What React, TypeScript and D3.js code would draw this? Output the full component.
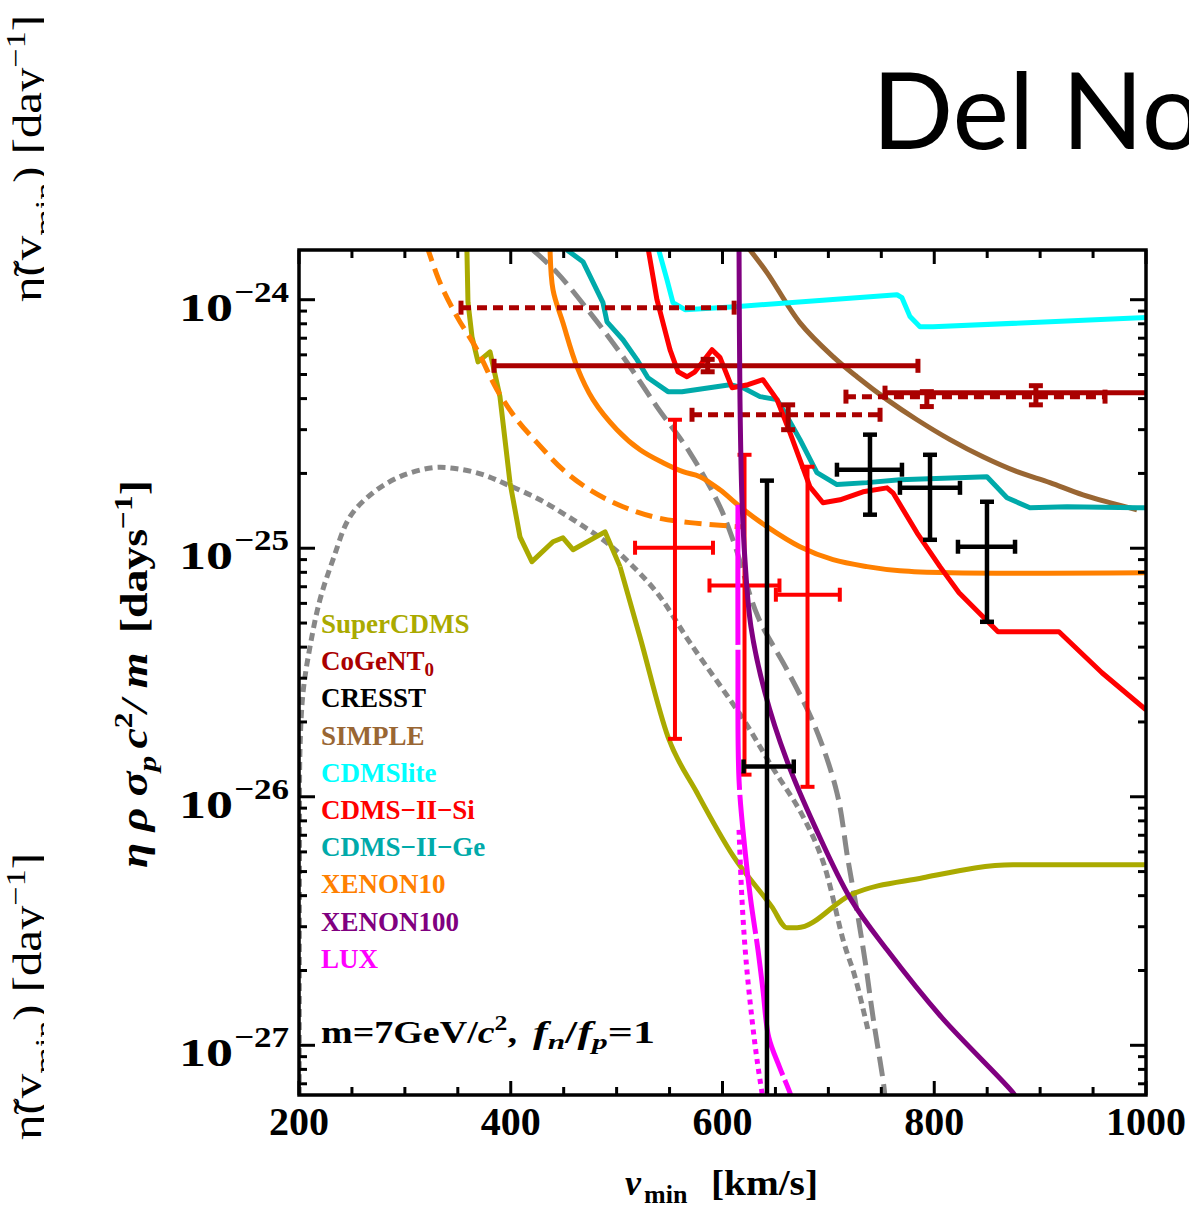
import React from 'react';
import * as d3 from 'd3';

// Velocities in km/s; rates stored as log10 of the rate in days^-1.
type Pt = [number, number];

const superCdms: Pt[] = [
  [358.5, -23.78], [359.6, -24.01], [363.4, -24.149], [369.1, -24.25], [380.4, -24.21],
  [389.8, -24.39], [399.3, -24.736], [408.7, -24.954], [420, -25.054], [439.9, -24.974],
  [449.3, -24.958], [458.8, -25.006], [489, -24.934], [503.2, -25.074], [522, -25.356],
  [548.5, -25.759], [575.9, -25.984], [609.9, -26.237], [646.7, -26.443], [660.9, -26.527],
  [670.4, -26.527], [721.4, -26.394], [789.4, -26.326], [874.4, -26.274], [1000, -26.274],
];
// index where the jagged low-velocity part hands over to the smooth tail
const superCdmsSmoothFrom = 13;

const cdmsLite: Pt[] = [
  [539.1, -23.79], [547.6, -23.92], [553.2, -24.012], [564.6, -24.04], [611.8, -24.028],
  [764.8, -23.98], [769.5, -23.992], [777.1, -24.068], [786.5, -24.109], [798.8, -24.109],
  [1000, -24.072],
];

const cdmsSi: Pt[] = [
  [529.6, -23.79], [538.1, -24.0], [550.4, -24.201], [558, -24.29], [566.5, -24.31],
  [574, -24.29], [590.1, -24.201], [597.7, -24.233], [609, -24.354], [624.1, -24.342],
  [638.2, -24.322], [651.5, -24.402], [663.7, -24.535], [682.6, -24.753], [694.9, -24.817],
  [711, -24.805], [732.7, -24.773], [755.4, -24.757], [761, -24.777], [783.7, -24.938],
  [805.4, -25.074], [823.4, -25.179], [860.2, -25.336], [917.8, -25.336], [958.4, -25.501],
  [1000, -25.65],
];

const cdmsGe: Pt[] = [
  [453.1, -23.8], [468.2, -23.847], [487.1, -24.012], [490.9, -24.089], [506, -24.161],
  [519.2, -24.241], [529.6, -24.314], [548.5, -24.37], [561.7, -24.37], [607.1, -24.342],
  [619.4, -24.354], [635.4, -24.39], [651.5, -24.402], [663.7, -24.491], [673.2, -24.563],
  [689.2, -24.696], [708.1, -24.744], [736.5, -24.736], [767.6, -24.724], [849.8, -24.712],
  [868.7, -24.797], [890.4, -24.837], [925.4, -24.833], [991.5, -24.837], [1000, -24.837],
];

const simple: Pt[] = [
  [624.1, -23.79], [642, -23.891], [673.2, -24.093], [704.4, -24.229], [727, -24.31],
  [755.4, -24.402], [783.7, -24.483], [814.9, -24.563], [846, -24.632], [878.2, -24.692],
  [909.3, -24.736], [940.5, -24.785], [991.5, -24.845],
];

const xenon10: Pt[] = [
  [437.1, -23.79], [439.9, -23.96], [449.3, -24.093], [462.6, -24.27], [477.7, -24.402],
  [500.3, -24.523], [522.1, -24.604], [543.8, -24.656], [562.7, -24.692], [578.7, -24.712],
  [597.6, -24.765], [616.5, -24.833], [642, -24.913], [673.2, -24.994], [704.4, -25.046],
  [736.5, -25.074], [767.6, -25.091], [814.9, -25.099], [1000, -25.099],
];

const xenon10Alt: Pt[] = [
  [320.5, -23.78], [333.2, -23.932], [349.2, -24.068], [368.1, -24.201], [387, -24.362],
  [405.9, -24.483], [424.8, -24.575], [449.3, -24.684], [474.8, -24.765], [506, -24.833],
  [538.1, -24.877], [569.3, -24.897], [613.7, -24.913], [621, -24.915],
];

const xenon100: Pt[] = [
  [615.6, -23.78], [616.5, -24.402], [618.4, -24.805], [621.2, -25.046], [626.9, -25.316],
  [640.1, -25.581], [660.5, -25.851], [687.4, -26.121], [721.4, -26.414], [755.4, -26.616],
  [806.4, -26.885], [874.4, -27.191], [877, -27.21],
];

const lux: Pt[] = [
  [614.6, -24.825], [614.6, -25.408], [615.6, -25.932], [621.2, -26.213], [626.6, -26.414],
  [633.5, -26.616], [638.2, -26.777], [643.6, -26.966], [653.8, -27.087], [663.7, -27.191],
  [665, -27.21],
];

const luxAlt: Pt[] = [
  [615.6, -26.133], [618.4, -26.414], [622.2, -26.656], [627.9, -26.897], [632.6, -27.058],
  [637.3, -27.191], [638, -27.21],
];

const haloDashed: Pt[] = [
  [421, -23.8], [443.7, -23.891], [474.8, -24.052], [506, -24.229], [538.1, -24.431],
  [569.3, -24.616], [597.6, -24.833], [611.8, -24.99], [633.5, -25.276], [660.9, -25.489],
  [687.4, -25.718], [708.1, -25.984], [718.5, -26.254], [728, -26.483], [735.5, -26.684],
  [742.1, -26.885], [752, -27.151], [753.5, -27.21],
];

const haloDotted: Pt[] = [
  [200.2, -27.2], [200.5, -26.2], [201, -25.8], [203.8, -25.581], [210.4, -25.396],
  [219.8, -25.207], [232.1, -25.046], [248.2, -24.873], [269.9, -24.777], [295.4, -24.712],
  [326.6, -24.676], [349.2, -24.68], [373.8, -24.704], [396.5, -24.744], [427.6, -24.805],
  [458.8, -24.885], [487.1, -24.966], [506, -25.034], [538.1, -25.179], [569.3, -25.38],
  [619.9, -25.69], [646.7, -25.879], [674.1, -26.064], [694.4, -26.254],
  [714.7, -26.588], [725.1, -26.724], [737.4, -26.938],
];

// CoGeNT bins: horizontal v_min range, central value, small vertical error
const cogentV = [586, 482, 662, 896, 793];
const cogentVLo = [384.2, 353, 571.2, 753.5, 716.6];
const cogentVHi = [784.6, 611, 748.8, 1060, 961.3];
const cogentLog = [-24.266, -24.032, -24.463, -24.374, -24.39];
const cogentLogLo = [-24.29, NaN, -24.523, -24.423, -24.43];
const cogentLogHi = [-24.24, NaN, -24.423, -24.346, -24.37];
const cogentDotted = [false, true, true, false, true];

// CRESST crosses
const cresstV = [739.3, 796, 849.8, 642];
const cresstVLo = [708.1, 767.6, 822.4, 619.9];
const cresstVHi = [769.5, 824.3, 876.3, 667.3];
const cresstLog = [-24.684, -24.757, -24.994, -25.878];
const cresstLogLo = [-24.865, -24.966, -25.296, -28];
const cresstLogHi = [-24.543, -24.624, -24.813, -24.728];

// CDMS-II-Si crosses
const siV = [555.1, 620.8, 680.3];
const siVLo = [517.4, 587.7, 650.4];
const siVHi = [591, 653.8, 710.8];
const siLog = [-24.998, -25.15, -25.187];
const siLogLo = [-25.767, -25.911, -25.96];
const siLogHi = [-24.483, -24.624, -24.672];

const legendNames = ['SuperCDMS', 'CoGeNT', 'CRESST', 'SIMPLE', 'CDMSlite', 'CDMS\u2212II\u2212Si', 'CDMS\u2212II\u2212Ge', 'XENON10', 'XENON100', 'LUX'];
const legendColors = ['#aaaa00', '#aa0000', '#000000', '#996633', '#00ffff', '#ff0000', '#00aaaa', '#ff8000', '#800080', '#ff00ff'];

const xTickValues = d3.range(200, 1001, 50);
const xTickLabels = [200, 400, 600, 800, 1000];
const yExponents = [-24, -25, -26, -27];

const W = 1189;
const H = 1210;
const P = { left: 299, right: 1146, top: 250, bottom: 1095 };
const serif = "'Liberation Serif', 'Times New Roman', serif";

export default function App() {
  const x = d3.scaleLinear().domain([200, 1000]).range([P.left, P.right]);
  const y = d3.scaleLog().domain([10 ** -27.2, 10 ** -23.8]).range([P.bottom, P.top]);
  const py = (l: number) => y(10 ** l);

  const lin = d3.line<Pt>().x((d) => x(d[0])).y((d) => py(d[1]));
  const mono = d3.line<Pt>().x((d) => x(d[0])).y((d) => py(d[1])).curve(d3.curveMonotoneX);
  const smooth = d3.line<Pt>().x((d) => x(d[0])).y((d) => py(d[1])).curve(d3.curveCatmullRom.alpha(0.5));

  const curves = [
    { id: 'haloDotted', d: smooth(haloDotted), color: '#888888', dash: '8 5' },
    { id: 'haloDashed', d: smooth(haloDashed), color: '#888888', dash: '20 8' },
    { id: 'superCdmsA', d: lin(superCdms.slice(0, superCdmsSmoothFrom + 1)), color: '#aaaa00', dash: undefined },
    { id: 'superCdmsB', d: mono(superCdms.slice(superCdmsSmoothFrom)), color: '#aaaa00', dash: undefined },
    { id: 'xenon10', d: smooth(xenon10), color: '#ff8000', dash: undefined },
    { id: 'xenon10Alt', d: smooth(xenon10Alt), color: '#ff8000', dash: '17 8' },
    { id: 'simple', d: smooth(simple), color: '#996633', dash: undefined },
    { id: 'cdmsLite', d: lin(cdmsLite), color: '#00ffff', dash: undefined },
    { id: 'cdmsGe', d: lin(cdmsGe), color: '#00aaaa', dash: undefined },
    { id: 'cdmsSi', d: lin(cdmsSi), color: '#ff0000', dash: undefined },
  ];

  const yTicks: { v: number; major: boolean }[] = [];
  for (let e = -28; e <= -23; e++) {
    for (let m = 1; m <= 9; m++) {
      const v = m * 10 ** e;
      if (v >= 10 ** -27.2 && v <= 10 ** -23.8) yTicks.push({ v, major: m === 1 });
    }
  }

  const cap = 7;
  const hBar = (lo: number, hi: number, l: number, color: string, w: number, dash?: string) => (
    <g>
      <line x1={x(lo)} x2={x(hi)} y1={py(l)} y2={py(l)} stroke={color} strokeWidth={w} strokeDasharray={dash} />
      <line x1={x(lo)} x2={x(lo)} y1={py(l) - cap} y2={py(l) + cap} stroke={color} strokeWidth={w} />
      <line x1={x(hi)} x2={x(hi)} y1={py(l) - cap} y2={py(l) + cap} stroke={color} strokeWidth={w} />
    </g>
  );
  const vBar = (v: number, lo: number, hi: number, color: string, w: number) => (
    <g>
      <line x1={x(v)} x2={x(v)} y1={py(lo)} y2={py(hi)} stroke={color} strokeWidth={w} />
      <line x1={x(v) - cap} x2={x(v) + cap} y1={py(lo)} y2={py(lo)} stroke={color} strokeWidth={w} />
      <line x1={x(v) - cap} x2={x(v) + cap} y1={py(hi)} y2={py(hi)} stroke={color} strokeWidth={w} />
    </g>
  );

  return (
    <svg width={W} height={H} style={{ position: 'absolute', left: 0, top: 0, background: '#fff' }} fontFamily={serif}>
      <defs>
        <clipPath id="plotArea">
          <rect x={P.left} y={P.top} width={P.right - P.left} height={P.bottom - P.top} />
        </clipPath>
        <clipPath id="edgeStrip">
          <rect x={0} y={0} width={44} height={H} />
        </clipPath>
      </defs>

      {/* side caption repeated along the left edge */}
      <g clipPath="url(#edgeStrip)" fill="#000">
        {[302, 1140].map((y0) => (
          <text key={y0} transform={`translate(41,${y0}) rotate(-90)`} fontSize={40} textLength={287} lengthAdjust="spacingAndGlyphs">
            {'\u03B7\u0303(v'}
            <tspan fontSize={28} dy={13}>min</tspan>
            <tspan dy={-13}>{') [day'}</tspan>
            <tspan fontSize={28} dy={-16}>{'\u22121'}</tspan>
            <tspan dy={16}>]</tspan>
          </text>
        ))}
      </g>

      <text x={872} y={149} fontFamily="Lato, 'Open Sans', sans-serif" fontSize={107} fill="#000">Del Nobile</text>

      <g clipPath="url(#plotArea)" fill="none" strokeLinejoin="round">
        {curves.map((c) => (
          <path key={c.id} d={c.d ?? ''} stroke={c.color} strokeWidth={5} strokeDasharray={c.dash} />
        ))}

        {cogentV.map((v, i) => (
          <g key={`cg${i}`}>
            {hBar(cogentVLo[i], cogentVHi[i], cogentLog[i], '#aa0000', 5, cogentDotted[i] ? '10 6' : undefined)}
            {!isNaN(cogentLogLo[i]) && vBar(v, cogentLogLo[i], cogentLogHi[i], '#aa0000', 5)}
          </g>
        ))}

        {siV.map((v, i) => (
          <g key={`si${i}`}>
            {hBar(siVLo[i], siVHi[i], siLog[i], '#ff0000', 4)}
            {vBar(v, siLogLo[i], siLogHi[i], '#ff0000', 4)}
          </g>
        ))}

        <path d={smooth(luxAlt) ?? ''} stroke="#ff00ff" strokeWidth={5} strokeDasharray="5 5" />
        <path d={smooth(lux) ?? ''} stroke="#ff00ff" strokeWidth={5} strokeDasharray="140 5" />
        <path d={smooth(xenon100) ?? ''} stroke="#800080" strokeWidth={5} />

        {cresstV.map((v, i) => (
          <g key={`cr${i}`}>
            {hBar(cresstVLo[i], cresstVHi[i], cresstLog[i], '#000000', 4.5)}
            {vBar(v, cresstLogLo[i], cresstLogHi[i], '#000000', 4.5)}
          </g>
        ))}
      </g>

      {/* frame and ticks */}
      <rect x={P.left} y={P.top} width={P.right - P.left} height={P.bottom - P.top} fill="none" stroke="#000" strokeWidth={3.5} />
      <g stroke="#000" strokeWidth={3}>
        {xTickValues.map((v) => {
          const len = v % 200 === 0 ? 14 : 8;
          return (
            <g key={`xt${v}`}>
              <line x1={x(v)} x2={x(v)} y1={P.bottom} y2={P.bottom - len} />
              <line x1={x(v)} x2={x(v)} y1={P.top} y2={P.top + len} />
            </g>
          );
        })}
        {yTicks.map((t, i) => {
          const len = t.major ? 16 : 8;
          return (
            <g key={`yt${i}`}>
              <line x1={P.left} x2={P.left + len} y1={y(t.v)} y2={y(t.v)} />
              <line x1={P.right} x2={P.right - len} y1={y(t.v)} y2={y(t.v)} />
            </g>
          );
        })}
      </g>

      <g fontWeight="bold" fill="#000">
        {xTickLabels.map((v) => (
          <text key={`xl${v}`} x={x(v)} y={1135} fontSize={40} textAnchor="middle">{v}</text>
        ))}
        {yExponents.map((e) => (
          <g key={`yl${e}`}>
            <text x={179} y={y(10 ** e) + 21} fontSize={40} textLength={54} lengthAdjust="spacingAndGlyphs">10</text>
            <text x={234} y={y(10 ** e) + 2} fontSize={30} textLength={55} lengthAdjust="spacingAndGlyphs">{`\u2212${-e}`}</text>
          </g>
        ))}

        <text x={625} y={1195} fontSize={36} fontStyle="italic">v</text>
        <text x={644} y={1203} fontSize={26}>min</text>
        <text x={711} y={1195} fontSize={36} textLength={107} lengthAdjust="spacingAndGlyphs">[km/s]</text>

        <text transform="translate(147,674) rotate(-90)" textAnchor="middle" fontSize={38} textLength={388} lengthAdjust="spacingAndGlyphs">
          <tspan fontStyle="italic">{'\u03B7 \u03C1 \u03C3'}</tspan>
          <tspan fontStyle="italic" fontSize={26} dy={9}>p</tspan>
          <tspan fontStyle="italic" dy={-9} dx={6}>c</tspan>
          <tspan fontSize={26} dy={-15}>2</tspan>
          <tspan fontStyle="italic" dy={15}>/ m</tspan>
          <tspan dx={16}>[days</tspan>
          <tspan fontSize={26} dy={-15}>{'\u22121'}</tspan>
          <tspan dy={15}>]</tspan>
        </text>

        {legendNames.map((name, i) => (
          <text key={name} x={321} y={633 + i * 37.2} fontSize={27} fill={legendColors[i]}>
            {name}
            {name === 'CoGeNT' && <tspan fontSize={19} dy={6}>0</tspan>}
          </text>
        ))}

        <text x={321} y={1043} fontSize={31} textLength={196} lengthAdjust="spacingAndGlyphs">
          m=7GeV/<tspan fontStyle="italic">c</tspan>
          <tspan fontSize={21} dy={-13}>2</tspan>
          <tspan dy={13}>,</tspan>
        </text>
        <text x={533} y={1043} fontSize={31} textLength={122} lengthAdjust="spacingAndGlyphs">
          <tspan fontStyle="italic">f</tspan>
          <tspan fontStyle="italic" fontSize={22} dy={6}>n</tspan>
          <tspan dy={-6}>/</tspan>
          <tspan fontStyle="italic">f</tspan>
          <tspan fontStyle="italic" fontSize={22} dy={6}>p</tspan>
          <tspan dy={-6}>=1</tspan>
        </text>
      </g>
    </svg>
  );
}
